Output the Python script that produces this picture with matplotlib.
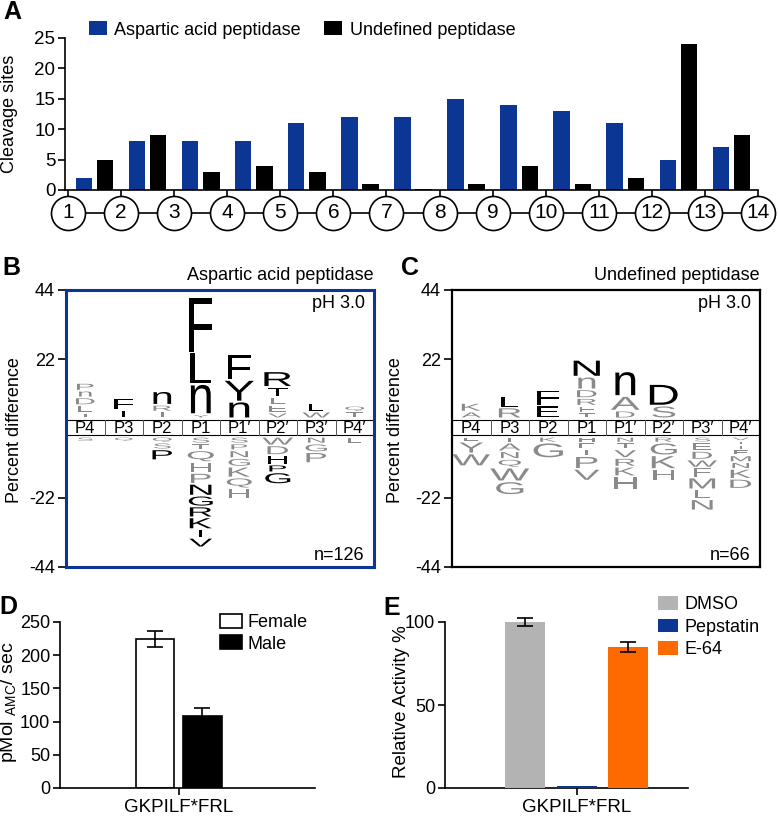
import numpy as np
import matplotlib
matplotlib.use('Agg')
import matplotlib.pyplot as plt
import matplotlib.transforms as mtransforms
from matplotlib.textpath import TextPath
from matplotlib.patches import PathPatch, Rectangle
from matplotlib.font_manager import FontProperties

plt.rcParams['font.family'] = ['Liberation Sans', 'DejaVu Sans']
plt.rcParams['axes.unicode_minus'] = False

# A: cleavage sites between residues 1..14
sites = list(range(1, 15))
asp_sites = [2, 8, 8, 8, 11, 12, 12, 15, 14, 13, 11, 5, 7]
und_sites = [5, 9, 3, 4, 3, 1, 0.2, 1, 4, 1, 2, 24, 9]

# B / C: letters listed from the P-row outward, heights in percent, 1 = black (significant)
positions = ['P4', 'P3', 'P2', 'P1', 'P1\u2032', 'P2\u2032', 'P3\u2032', 'P4\u2032']

asp_up = ['ILDnP', 'IF', 'IRn', 'YnLF', 'nYF', 'VELTR', 'WL', 'TQ']
asp_up_h = [[1.2, 1.9, 1.9, 1.6, 1.9], [2.2, 3.2], [1.6, 1.6, 3.8], [0.8, 9.0, 9.5, 17.0],
            [4.8, 6.3, 7.5], [1.3, 1.9, 1.9, 2.7, 4.4], [1.6, 2.0], [1.6, 1.3]]
asp_up_sig = ['00000', '11', '001', '0111', '111', '00011', '01', '00']
asp_dn = ['S', 'Q', 'QSP', 'STQHPNGRKIV', 'SPNGKQH', 'WDHPG', 'NGP', 'L']
asp_dn_h = [[1.0], [1.0], [1.3, 1.6, 2.9], [1.6, 1.6, 3.2, 2.9, 2.9, 3.2, 2.9, 2.9, 3.2, 2.2, 2.5],
            [1.6, 1.6, 1.9, 2.2, 2.9, 2.9, 2.9], [2.2, 2.5, 2.5, 1.9, 3.2], [1.6, 2.2, 2.9], [1.6]]
asp_dn_sig = ['0', '0', '001', '00000111111', '0000000', '00111', '000', '0']

und_up = ['AK', 'RL', 'EF', 'TFRDnN', 'DAn', 'SD', '', '']
und_up_h = [[1.6, 2.2], [2.9, 3.2], [3.5, 4.5], [1.3, 1.6, 1.9, 2.2, 3.5, 4.8],
            [1.9, 4.1, 7.3], [3.5, 6.3], [], []]
und_up_sig = ['00', '01', '11', '000001', '001', '01', '', '']
und_dn = ['EYW', 'IANQWG', 'KG', 'HEIPV', 'NTVRKH', 'RGKH', 'SEDWFMLN', 'VITFMNKD']
und_dn_h = [[1.0, 3.2, 3.5], [1.3, 2.2, 1.9, 2.2, 3.8, 3.8], [1.3, 4.4], [1.3, 1.6, 1.6, 3.5, 3.2],
            [1.3, 1.6, 2.2, 2.2, 2.5, 3.8], [1.3, 3.5, 3.8, 3.2],
            [1.2, 2.2, 2.2, 2.0, 2.6, 3.2, 2.6, 3.0], [0.8, 0.8, 0.8, 1.3, 1.6, 1.6, 2.6, 2.6]]
und_dn_sig = ['000', '000000', '00', '00000', '000000', '0000', '00000000', '00000000']

# D
sexes = ['Female', 'Male']
activity = [224, 108]
activity_err = [12, 12]

# E
treatments = ['DMSO', 'Pepstatin', 'E-64']
rel_activity = [100, 1.2, 85]
rel_err = [2.5, 0, 3]

W, H = 778, 817
fig = plt.figure(figsize=(W / 100, H / 100), dpi=100)


def box(l, t, r, b):
    return [l / W, 1 - b / H, (r - l) / W, (b - t) / H]


def ftext(x, y, s, **kw):
    fig.text(x / W, 1 - y / H, s, **kw)


BLUE = '#0b3694'
GRAY = '#8a8a8a'

# ---------------- A
ax = fig.add_axes(box(65, 38, 758, 190))
xg = np.arange(1, 14) + 0.5
ax.bar(xg - 0.2, asp_sites, 0.31, color=BLUE, label='Aspartic acid peptidase')
ax.bar(xg + 0.2, und_sites, 0.31, color='black', label='Undefined peptidase')
ax.set_xlim(0.943, 14)
ax.set_ylim(0, 25)
ax.set_yticks(range(0, 26, 5))
ax.set_xticks(sites)
ax.set_xticklabels([])
ax.tick_params(axis='both', length=5, width=1.2, labelsize=13.5, pad=2)
ax.spines[['top', 'right']].set_visible(False)
for s in ['left', 'bottom']:
    ax.spines[s].set_linewidth(1.2)
trans = ax.get_xaxis_transform()
cy = -23 / 152
ax.plot([1, 14], [cy, cy], color='black', lw=1.2, transform=trans, clip_on=False, zorder=3)
ax.plot(sites, [cy] * 14, 'o', ms=24.5, mfc='white', mec='black', mew=1.2,
        transform=trans, clip_on=False, zorder=4)
for s in sites:
    ax.text(s, cy, str(s), transform=trans, ha='center', va='center', fontsize=15, zorder=5)
ftext(10, 114, 'Cleavage sites', rotation=90, ha='center', va='center', fontsize=13)
fig.legend(loc='center left', bbox_to_anchor=(89 / W, 1 - 30 / H), ncol=2, frameon=False,
           fontsize=13, handlelength=1.0, handleheight=0.8, handletextpad=0.4,
           columnspacing=1.3, borderpad=0, borderaxespad=0)

# ---------------- B, C
FP = FontProperties(family='Liberation Sans')
REF_W = TextPath((0, 0), 'N', size=1, prop=FP).get_extents().width
BAND_TOP, BAND_BOT = 2.7, -2.1
GAP = 0.55


def draw_letter(ax, ch, xc, y0, h, color):
    tp = TextPath((0, 0), ch, size=1, prop=FP)
    bb = tp.get_extents()
    w = min(0.68, 0.3 + 0.08 * h)
    tr = (mtransforms.Affine2D()
          .translate(-(bb.x0 + bb.x1) / 2, -bb.y0)
          .scale(w / REF_W, h / bb.height)
          .translate(xc, y0))
    ax.add_patch(PathPatch(tr.transform_path(tp), fc=color, ec='none', lw=0))


def logo(ax, up, up_h, up_sig, dn, dn_h, dn_sig):
    for i in range(8):
        y = BAND_TOP + 0.8
        for ch, h, s in zip(up[i], up_h[i], up_sig[i]):
            draw_letter(ax, ch, i + 0.5, y, h, 'black' if s == '1' else GRAY)
            y += h + GAP
        y = BAND_BOT - 0.8
        for ch, h, s in zip(dn[i], dn_h[i], dn_sig[i]):
            draw_letter(ax, ch, i + 0.5, y - h, h, 'black' if s == '1' else GRAY)
            y -= h + GAP
    ax.add_patch(Rectangle((0, BAND_BOT), 8, BAND_TOP - BAND_BOT, fc='white', ec='black', lw=0.8))
    for i in range(1, 8):
        ax.plot([i, i], [BAND_BOT, BAND_TOP], color='#555555', lw=0.7)
    for i, p in enumerate(positions):
        ax.text(i + 0.5, (BAND_TOP + BAND_BOT) / 2 - 0.3, p, ha='center', va='center', fontsize=12)


panels = [
    (66, 374, BLUE, 2.2, 'Aspartic acid peptidase', 'n=126',
     (asp_up, asp_up_h, asp_up_sig, asp_dn, asp_dn_h, asp_dn_sig), 15),
    (452, 760, 'black', 1.6, 'Undefined peptidase', 'n=66',
     (und_up, und_up_h, und_up_sig, und_dn, und_dn_h, und_dn_sig), 396),
]
for left, right, ec, lw, title, ntxt, seqs, ylx in panels:
    ax = fig.add_axes(box(left, 290, right, 567))
    logo(ax, *seqs)
    ax.set_xlim(0, 8)
    ax.set_ylim(-44, 44)
    ax.set_xticks([])
    ax.set_yticks([-44, -22, 22, 44])
    ax.set_yticklabels(['-44', '-22', '22', '44'])
    ax.tick_params(axis='y', length=6, width=1.2, labelsize=13, pad=2, color='black')
    for s in ax.spines.values():
        s.set_color(ec)
        s.set_linewidth(lw)
    ax.text(1, 1.02, title, transform=ax.transAxes, ha='right', va='bottom', fontsize=13)
    ax.text(0.97, 0.95, 'pH 3.0', transform=ax.transAxes, ha='right', va='center', fontsize=13)
    ax.text(0.97, 0.04, ntxt, transform=ax.transAxes, ha='right', va='center', fontsize=13)
    ftext(ylx, 430, 'Percent difference', rotation=90, ha='center', va='center', fontsize=13)

# ---------------- D
ax = fig.add_axes(box(60, 622, 315, 788))
ax.bar([-0.5, 0.5], activity, 0.82, color=['white', 'black'], edgecolor='black',
       linewidth=1.2, label=sexes)
ax.errorbar([-0.5, 0.5], activity, yerr=activity_err, fmt='none', ecolor='black',
            elinewidth=1.2, capsize=6, capthick=1.2, clip_on=False)
ax.set_xlim(-2.5, 2.87)
ax.set_ylim(0, 250)
ax.set_yticks(range(0, 251, 50))
ax.set_xticks([0])
ax.set_xticklabels(['GKPILF*FRL'])
ax.tick_params(axis='both', length=5, width=1.2, labelsize=13, pad=2)
ax.tick_params(axis='x', labelsize=13.5, pad=3)
ax.spines[['top', 'right']].set_visible(False)
for s in ['left', 'bottom']:
    ax.spines[s].set_linewidth(1.2)
ax.legend(loc='upper left', bbox_to_anchor=(220 / W, 1 - 614 / H), bbox_transform=fig.transFigure,
          frameon=False, fontsize=13, handlelength=1.2, handleheight=0.85, handletextpad=0.3,
          labelspacing=0.2, borderpad=0, borderaxespad=0)
ftext(9, 702, r'pMol $\mathregular{_{AMC}}$/ sec', rotation=90, ha='center', va='center',
      fontsize=14)

# ---------------- E
ax = fig.add_axes(box(445, 622, 688, 788))
ax.bar([-1, 0, 1], rel_activity, 0.78, color=['#b3b3b3', BLUE, '#ff6a00'], label=treatments,
       zorder=3, clip_on=False)
ax.errorbar([-1, 1], [rel_activity[0], rel_activity[2]], yerr=[rel_err[0], rel_err[2]],
            fmt='none', ecolor='black', elinewidth=1.2, capsize=6, capthick=1.2, clip_on=False,
            zorder=4)
ax.set_xlim(-2.56, 2.16)
ax.set_ylim(0, 100)
ax.set_yticks([0, 50, 100])
ax.set_xticks([0])
ax.set_xticklabels(['GKPILF*FRL'])
ax.tick_params(axis='both', length=5, width=1.2, labelsize=13, pad=2)
ax.tick_params(axis='x', labelsize=13.5, pad=3)
ax.spines[['top', 'right']].set_visible(False)
for s in ['left', 'bottom']:
    ax.spines[s].set_linewidth(1.2)
ax.legend(loc='upper left', bbox_to_anchor=(658 / W, 1 - 596 / H), bbox_transform=fig.transFigure,
          frameon=False, fontsize=13, handlelength=1.1, handleheight=0.8, handletextpad=0.35,
          labelspacing=0.3, borderpad=0, borderaxespad=0)
ftext(401, 702, 'Relative Activity %', rotation=90, ha='center', va='center', fontsize=13.5)

for lab, x, y in [('A', 12, 12), ('B', 11, 268), ('C', 410, 268), ('D', 8, 607), ('E', 392, 608)]:
    ftext(x, y, lab, ha='center', va='center', fontsize=18, fontweight='bold')

fig.savefig('out.png', dpi=100)
